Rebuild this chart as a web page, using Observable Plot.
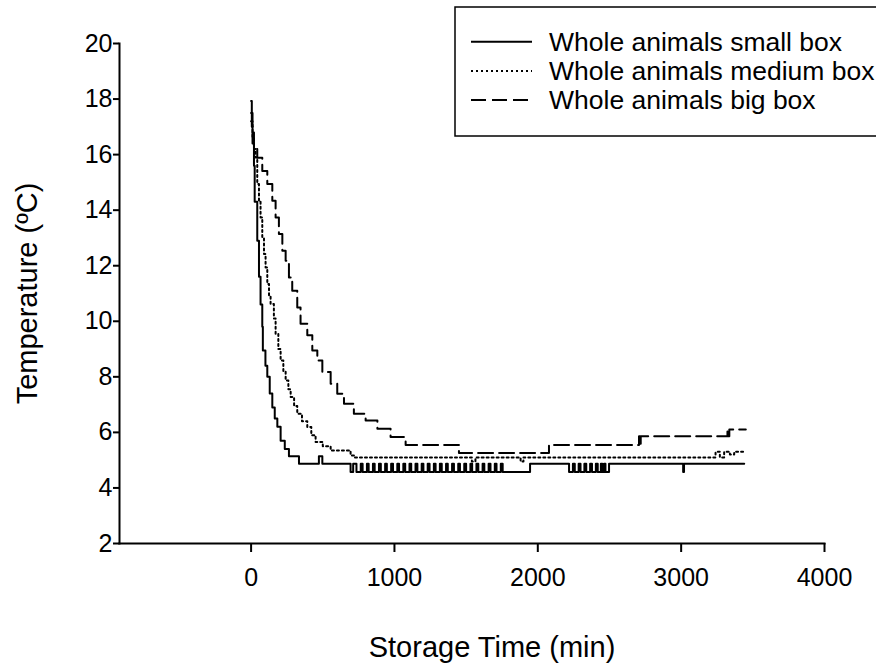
<!DOCTYPE html>
<html><head><meta charset="utf-8">
<script src="https://cdn.jsdelivr.net/npm/d3@7"></script>
<script src="https://cdn.jsdelivr.net/npm/@observablehq/plot@0.6"></script>
<style>
body{margin:0;background:#fff;font-family:"Liberation Sans",Arial,sans-serif;}
#wrap{position:relative;width:876px;height:664px;overflow:hidden;background:#fff;}
#wrap > svg{position:absolute;left:0;top:0;}
</style></head>
<body><div id="wrap"></div>
<script>
// ---- data ----
const seriesNames = ["Whole animals small box", "Whole animals medium box", "Whole animals big box"];
const xTicks = [0, 1000, 2000, 3000, 4000];
const yTicks = [2, 4, 6, 8, 10, 12, 14, 16, 18, 20];

// small box: [time (min), temperature (°C)]
const smallBox = [[0,17.93],[5,17.0],[10,16.4],[20,15.6],[25,14.3],[43,12.9],[55,11.6],[66,10.6],[78,9.8],[82,8.95],[100,8.4],[113,8.0],[130,7.4],[148,6.9],[165,6.5],[183,6.2],[206,5.7],[235,5.4],[264,5.14],[334,4.87],[473,5.14],[497,4.87]];
const smallBase = 4.87, smallLow = 4.57, smallEnd = 3440;
// intervals where the small-box trace dips to the lower level
const smallDips = [[694,712],[735,765],[778,808],[820,850],[862,892],[905,935],[947,977],[990,1020],[1032,1062],[1075,1105],[1117,1147],[1160,1190],[1202,1232],[1245,1275],[1287,1317],[1330,1360],[1372,1402],[1415,1445],[1457,1487],[1500,1530],[1542,1572],[1585,1615],[1627,1657],[1670,1700],[1712,1742],[1755,1946],[2218,2245],[2258,2285],[2298,2325],[2338,2365],[2378,2405],[2418,2440],[2450,2462],[2472,2497],[3014,3020]];

const mediumBox = [[0,17.2],[10,16.6],[20,16.2],[31,15.9],[43,14.94],[55,14.34],[66,13.74],[78,13.02],[90,12.42],[101,11.94],[113,11.34],[125,10.9],[136,10.62],[159,10.1],[171,9.55],[190,9.0],[206,8.59],[225,8.2],[241,7.87],[260,7.55],[276,7.27],[300,6.95],[322,6.67],[355,6.4],[392,6.19],[420,5.9],[450,5.65],[500,5.5],[555,5.35],[694,5.17],[720,5.1],[1540,4.95],[1565,5.1],[1880,4.95],[1900,5.1],[3240,5.3],[3270,5.1],[3300,5.3],[3340,5.2],[3370,5.3],[3440,5.3]];

const bigBox = [[0,17.5],[10,16.8],[20,16.2],[43,15.89],[78,15.41],[113,14.94],[148,14.34],[171,13.74],[194,13.14],[218,12.54],[241,12.18],[264,11.58],[287,11.10],[322,10.5],[345,9.91],[392,9.5],[427,8.95],[462,8.59],[497,8.17],[555,7.75],[601,7.39],[648,7.03],[717,6.67],[799,6.43],[881,6.13],[973,5.83],[1078,5.55],[1450,5.26],[2078,5.55],[2706,5.86],[2712,5.55],[2718,5.86],[3323,6.1],[3330,5.86],[3336,6.1],[3451,6.1]];

// ---- build full small-box trace from the read values ----
const smallFull = smallBox.slice();
for (const [a, b] of smallDips) { smallFull.push([a, smallLow]); smallFull.push([b, smallBase]); }
smallFull.push([smallEnd, smallBase]);
smallFull.sort((p, q) => p[0] - q[0]);

const font = '"Liberation Sans", Arial, sans-serif';
const styles = [
  {strokeDasharray: null},
  {strokeDasharray: "2,3"},
  {strokeDasharray: "15,6"}
];

const chart = Plot.plot({
  width: 876, height: 664,
  marginLeft: 119, marginRight: 52, marginTop: 43, marginBottom: 121,
  x: {domain: [-918, 4000]},
  y: {domain: [2, 20]},
  style: {fontFamily: font, background: "white", color: "black", overflow: "visible"},
  marks: [
    Plot.frame({anchor: "left", strokeWidth: 2}),
    Plot.frame({anchor: "bottom", strokeWidth: 2}),
    Plot.axisY(yTicks, {tickSize: 6, tickPadding: 1, fontSize: 25, label: null, strokeWidth: 2, tickFormat: d => String(d)}),
    Plot.axisX(xTicks, {tickSize: 9, tickPadding: 16, fontSize: 25, label: null, strokeWidth: 2, tickFormat: d => String(d)}),
    Plot.line(smallFull, {x: d => d[0], y: d => d[1], curve: "step-after", stroke: "black", strokeWidth: 2}),
    Plot.line(mediumBox, {x: d => d[0], y: d => d[1], curve: "step-after", stroke: "black", strokeWidth: 2, strokeDasharray: "2,3"}),
    Plot.line(bigBox, {x: d => d[0], y: d => d[1], curve: "step-after", stroke: "black", strokeWidth: 2, strokeDasharray: "15,6"}),
    Plot.text(["Storage Time (min)"], {frameAnchor: "bottom", dx: 20, dy: 113, lineAnchor: "bottom", textAnchor: "middle", fontSize: 29, fill: "black"}),
    Plot.text(["Temperature (ºC)"], {frameAnchor: "left", dx: -83, rotate: -90, lineAnchor: "bottom", textAnchor: "middle", fontSize: 29, fill: "black"})
  ]
});
document.getElementById("wrap").appendChild(chart);

// ---- legend box (top right) ----
const leg = d3.select("#wrap").append("svg")
  .attr("width", 876).attr("height", 664)
  .style("pointer-events", "none");
leg.append("rect").attr("x", 455).attr("y", 7).attr("width", 430).attr("height", 129)
  .attr("fill", "white").attr("stroke", "black").attr("stroke-width", 1.5);
const rowY = [41.7, 71, 100];
seriesNames.forEach((name, i) => {
  const l = leg.append("line").attr("x1", 471).attr("x2", 532).attr("y1", rowY[i]).attr("y2", rowY[i])
    .attr("stroke", "black").attr("stroke-width", 2);
  if (styles[i].strokeDasharray) l.attr("stroke-dasharray", styles[i].strokeDasharray);
  leg.append("text").attr("x", 549).attr("y", rowY[i] + 9)
    .attr("font-family", font).attr("font-size", 26.5).attr("fill", "black").text(name);
});
</script></body></html>
